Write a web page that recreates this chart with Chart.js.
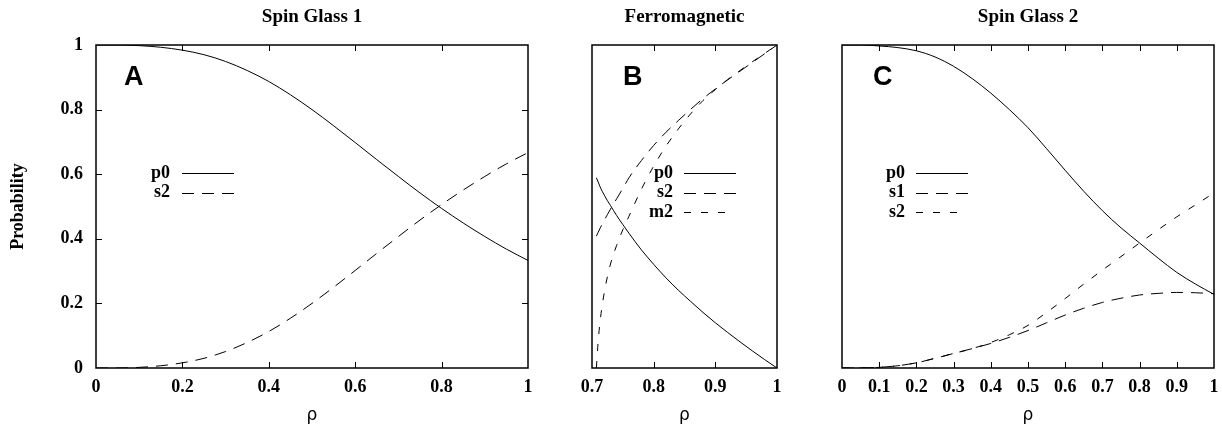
<!DOCTYPE html>
<html><head><meta charset="utf-8">
<script src="https://cdn.jsdelivr.net/npm/chart.js@4.4.0/dist/chart.umd.min.js"></script>
<style>
html,body{margin:0;padding:0;background:#fff;width:1222px;height:426px;overflow:hidden}
canvas{position:absolute;top:0;display:block}
</style></head><body>
<canvas id="c1" width="545" height="426" style="left:0px"></canvas>
<canvas id="c2" width="245" height="426" style="left:545px"></canvas>
<canvas id="c3" width="432" height="426" style="left:790px"></canvas>
<script>
// ---------- data ----------
const rhoA = [0,0.05,0.1,0.15,0.2,0.25,0.3,0.35,0.4,0.45,0.5,0.55,0.6,0.65,0.7,0.75,0.8,0.85,0.9,0.95,1];
const glass1_p0 = [1.000,1.000,0.998,0.993,0.984,0.970,0.949,0.921,0.887,0.846,0.800,0.750,0.698,0.645,0.593,0.542,0.494,0.449,0.407,0.368,0.333];
const glass1_s2 = [0.000,0.000,0.002,0.007,0.016,0.030,0.051,0.079,0.113,0.154,0.200,0.250,0.302,0.355,0.407,0.458,0.506,0.551,0.593,0.632,0.667];

const rhoB = [0.7071,0.71,0.714,0.72,0.725,0.73,0.74,0.75,0.76,0.78,0.8,0.82,0.84,0.86,0.88,0.9,0.92,0.94,0.96,0.98,1];
const ferro_p0 = [0.589,0.576,0.557,0.535,0.518,0.503,0.472,0.444,0.417,0.366,0.321,0.279,0.241,0.206,0.172,0.140,0.110,0.081,0.053,0.026,0.000];
const ferro_s2 = [0.408,0.420,0.436,0.458,0.475,0.492,0.524,0.556,0.589,0.642,0.689,0.730,0.766,0.801,0.834,0.864,0.892,0.919,0.946,0.973,1.000];
const ferro_m2 = [0.000,0.082,0.158,0.235,0.283,0.322,0.380,0.428,0.470,0.553,0.625,0.687,0.740,0.787,0.828,0.862,0.893,0.921,0.948,0.974,1.000];

const rhoC = [0,0.05,0.1,0.15,0.2,0.25,0.3,0.35,0.4,0.45,0.5,0.55,0.6,0.65,0.7,0.75,0.8,0.85,0.9,0.95,1];
const glass2_p0 = [1.000,1.000,0.997,0.992,0.982,0.963,0.934,0.896,0.851,0.800,0.744,0.679,0.612,0.547,0.487,0.434,0.387,0.340,0.296,0.260,0.228];
const glass2_s1 = [0.000,0.0003,0.002,0.007,0.016,0.030,0.045,0.060,0.076,0.095,0.116,0.140,0.164,0.185,0.203,0.216,0.226,0.231,0.234,0.233,0.230];
const glass2_s2 = [0.000,0.0003,0.002,0.007,0.016,0.030,0.045,0.060,0.079,0.103,0.132,0.172,0.215,0.260,0.303,0.345,0.387,0.428,0.468,0.505,0.542];

const ticksA = {min:0, max:1, step:0.2};
const ticksB = {min:0.7, max:1, step:0.1};
const ticksC = {min:0, max:1, step:0.1};

// ---------- styles ----------
const SERIF = '"Liberation Serif", "Times New Roman", serif';
const LONG = [12,8], SHORT = [7,10];
Chart.defaults.font.family = SERIF;
Chart.defaults.color = '#000';

function pts(xs, ys){ return xs.map((x,i)=>({x:x, y:ys[i]})); }
function ds(label, xs, ys, dash){
  return {label, data: pts(xs, ys), borderColor:'#000', borderWidth:1, borderDash:dash,
          pointRadius:0, fill:false, cubicInterpolationMode:'monotone'};
}
const fmt = v => String(Number(Number(v).toFixed(3)));

const decor = {
  id:'decor',
  afterDraw(chart, args, o){
    const ctx = chart.ctx, a = chart.chartArea;
    ctx.save();
    ctx.strokeStyle = '#000';
    ctx.setLineDash([]);
    const line = (x1,y1,x2,y2)=>{ctx.beginPath();ctx.moveTo(x1,y1);ctx.lineTo(x2,y2);ctx.stroke();};
    // inward ticks
    ctx.lineWidth = 1;
    const xs = chart.scales.x;
    xs.ticks.forEach(t=>{
      if (t.value <= xs.min + 1e-9 || t.value >= xs.max - 1e-9) return;
      const px = Math.round(xs.getPixelForValue(t.value)) + 0.5;
      line(px, a.bottom, px, a.bottom - 6);
      line(px, a.top, px, a.top + 6);
    });
    if (o.yTicks){
      const ys = chart.scales.y;
      ys.ticks.forEach(t=>{
        if (t.value <= ys.min + 1e-9 || t.value >= ys.max - 1e-9) return;
        const py = Math.round(ys.getPixelForValue(t.value)) + 0.5;
        line(a.left, py, a.left + 6, py);
        line(a.right, py, a.right - 6, py);
      });
    }
    // frame
    ctx.lineWidth = 1.5;
    ctx.strokeRect(a.left, a.top, a.right - a.left, a.bottom - a.top);
    // title
    ctx.fillStyle = '#000';
    ctx.font = 'bold 19px ' + SERIF;
    ctx.textAlign = 'center'; ctx.textBaseline = 'middle';
    ctx.fillText(o.title, (a.left + a.right)/2, 17);
    // panel letter
    ctx.font = 'bold 27px "Liberation Sans", Arial, sans-serif';
    ctx.textAlign = 'left'; ctx.textBaseline = 'alphabetic';
    ctx.fillText(o.letter, a.left + o.letterDx, 85);
    // legend
    ctx.font = 'bold 18px ' + SERIF;
    ctx.textAlign = 'right'; ctx.textBaseline = 'middle';
    chart.data.datasets.forEach((d,i)=>{
      const y = 173 + i*19.5;
      ctx.fillText(d.label, a.left + o.legTextDx, y);
      ctx.lineWidth = 1;
      ctx.setLineDash(d.borderDash || []);
      const len = (d.borderDash && d.borderDash[0] < 10) ? 43 : 52;
      const yy = Math.round(y) + 0.5;
      line(a.left + o.legLineDx, yy, a.left + o.legLineDx + len, yy);
      ctx.setLineDash([]);
    });
    ctx.restore();
  }
};

function makeChart(id, datasets, tk, opts){
  const yAxis = {
    type:'linear', min:0, max:1,
    ticks:{display:opts.yLabels, stepSize:0.2, padding:13, font:{size:18, weight:'bold'}, callback:fmt},
    grid:{display:false, drawTicks:false}, border:{display:false},
    title:{display:!!opts.yTitle, text:opts.yTitle || '', font:{size:18, weight:'bold'}, padding:{top:7.5, bottom:0}},
    afterFit(s){ s.width = opts.left; }
  };
  return new Chart(document.getElementById(id), {
    type:'line',
    data:{datasets},
    options:{
      responsive:false, animation:false,
      layout:{padding:{left:0, right:opts.right, top:45, bottom:0}},
      plugins:{legend:{display:false}, tooltip:{enabled:false}, title:{display:false}, decor:opts.decor},
      scales:{
        x:{type:'linear', min:tk.min, max:tk.max,
           ticks:{stepSize:tk.step, padding:9, maxRotation:0, autoSkip:false, font:{size:18, weight:'bold'}, callback:fmt},
           grid:{display:false, drawTicks:false}, border:{display:false},
           title:{display:true, text:'ρ', font:{family:'"DejaVu Sans", sans-serif', size:17, weight:'normal'}, padding:{top:0, bottom:0}},
           afterFit(s){ s.height = 58; s.paddingLeft = 0; s.paddingRight = 0; }},
        y:yAxis
      }
    },
    plugins:[decor]
  });
}

makeChart('c1', [
  ds('p0', rhoA, glass1_p0, []),
  ds('s2', rhoA, glass1_s2, LONG)
], ticksA, {left:96, right:17, yLabels:true, yTitle:'Probability',
  decor:{title:'Spin Glass 1', letter:'A', letterDx:28, legTextDx:74, legLineDx:86, yTicks:true}});

makeChart('c2', [
  ds('p0', rhoB, ferro_p0, []),
  ds('s2', rhoB, ferro_s2, LONG),
  ds('m2', rhoB, ferro_m2, SHORT)
], ticksB, {left:47, right:13, yLabels:false,
  decor:{title:'Ferromagnetic', letter:'B', letterDx:31, legTextDx:81, legLineDx:92, yTicks:false}});

makeChart('c3', [
  ds('p0', rhoC, glass2_p0, []),
  ds('s1', rhoC, glass2_s1, LONG),
  ds('s2', rhoC, glass2_s2, SHORT)
], ticksC, {left:52, right:8, yLabels:false,
  decor:{title:'Spin Glass 2', letter:'C', letterDx:31, legTextDx:63, legLineDx:74, yTicks:false}});
</script>
</body></html>
